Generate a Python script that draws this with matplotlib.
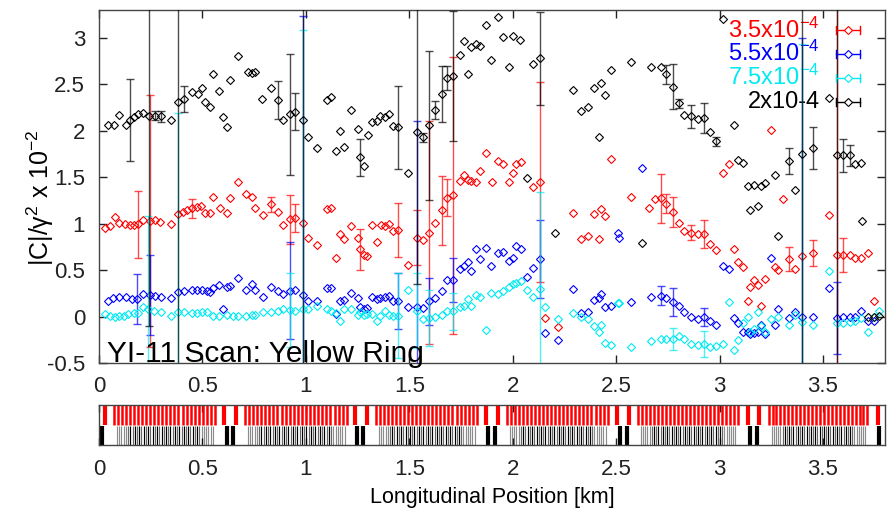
import numpy as np
import matplotlib
matplotlib.use('Agg')
import matplotlib.pyplot as plt
from matplotlib.ticker import FuncFormatter, MultipleLocator

plt.rcParams['font.family'] = ['Liberation Sans', 'DejaVu Sans']
plt.rcParams['mathtext.fontset'] = 'custom'
plt.rcParams['mathtext.rm'] = 'Liberation Sans'
plt.rcParams['mathtext.it'] = 'Liberation Sans:italic'
plt.rcParams['axes.unicode_minus'] = False

# ---------------- data ----------------
red_x = [0.029, 0.053, 0.077, 0.097, 0.126, 0.150, 0.171, 0.187, 0.214, 0.246, 0.271, 0.295, 0.348,
         0.383, 0.407, 0.424, 0.448, 0.472, 0.493, 0.512, 0.536, 0.552, 0.585, 0.617, 0.633, 0.673,
         0.713, 0.738, 0.754, 0.791, 0.831, 0.863, 0.890, 0.923, 0.947, 0.984, 1.011, 1.055, 1.100,
         1.124, 1.148, 1.164, 1.184, 1.216, 1.253, 1.264, 1.280, 1.298, 1.322, 1.344, 1.362, 1.382,
         1.402, 1.422, 1.446, 1.494, 1.535, 1.567, 1.596, 1.623, 1.656, 1.683, 1.712, 1.744, 1.763,
         1.784, 1.800, 1.821, 1.844, 1.873, 1.900, 1.929, 1.953, 1.981, 2.002, 2.018, 2.039, 2.098,
         2.130, 2.157, 2.218, 2.292, 2.332, 2.364, 2.393, 2.415, 2.428, 2.448, 2.477, 2.574, 2.657,
         2.686, 2.715, 2.742, 2.775, 2.802, 2.828, 2.863, 2.895, 2.923, 2.952, 2.981, 3.016, 3.048,
         3.068, 3.089, 3.113, 3.137, 3.148, 3.169, 3.185, 3.200, 3.222, 3.249, 3.270, 3.281, 3.305,
         3.335, 3.367, 3.399, 3.454, 3.528, 3.567, 3.599, 3.631, 3.657, 3.684, 3.717, 3.749]
red_y = [0.95, 0.975, 1.071, 1.011, 0.993, 0.986, 0.986, 0.993, 1.036, 1.029, 1.036, 1.021, 1.0,
         1.107, 1.129, 1.143, 1.164, 1.179, 1.189, 1.118, 1.118, 1.286, 1.171, 1.118, 1.271, 1.45,
         1.321, 1.286, 1.164, 1.093, 1.207, 1.129, 0.986, 1.046, 1.064, 1.011, 0.85, 0.771, 1.154,
         1.171, 0.629, 0.893, 0.832, 0.975, 0.85, 0.725, 0.664, 0.654, 0.986, 0.807, 0.986, 0.975,
         0.993, 0.921, 0.929, 0.557, 0.85, 0.821, 0.904, 1.011, 1.143, 1.279, 1.307, 1.464, 1.521,
         1.475, 1.457, 1.45, 1.571, 1.761, 1.45, 1.67, 1.64, 1.45, 1.54, 1.64, 1.66, 1.40,
         1.45, -0.014, -0.114, 1.118, 0.832, 0.868, 1.107, 0.832, 1.154, 1.082, 1.7, 1.286, 1.164,
         1.261, 1.271, 1.214, 1.129, 1.011, 0.921, 0.904, 0.893, 0.893, 0.786, 0.714, 1.546, 1.643,
         0.725, 0.582, 0.536, 0.164, 0.314, 0.393, 0.343, 0.118, 0.404, 2.011, 0.529, 0.5, 1.264,
         0.618, 0.511, 0.654, 0.689, 1.093, 0.664, 0.664, 0.664, 0.629, 0.629, 0.679, 0.171]

blue_x = [0.045, 0.069, 0.097, 0.129, 0.158, 0.182, 0.214, 0.246, 0.271, 0.300, 0.348, 0.383, 0.412,
          0.448, 0.472, 0.496, 0.520, 0.536, 0.552, 0.580, 0.601, 0.617, 0.633, 0.673, 0.713, 0.738,
          0.754, 0.791, 0.831, 0.863, 0.890, 0.923, 0.947, 0.984, 1.011, 1.055, 1.100, 1.124, 1.148,
          1.164, 1.184, 1.216, 1.253, 1.264, 1.280, 1.298, 1.322, 1.344, 1.357, 1.382, 1.402, 1.422,
          1.446, 1.494, 1.535, 1.567, 1.596, 1.623, 1.656, 1.683, 1.712, 1.744, 1.763, 1.784, 1.800,
          1.821, 1.844, 1.873, 1.897, 1.929, 1.953, 1.981, 2.002, 2.018, 2.039, 2.071, 2.098, 2.130,
          2.157, 2.218, 2.292, 2.332, 2.364, 2.393, 2.415, 2.428, 2.448, 2.477, 2.508, 2.516, 2.574,
          2.625, 2.670, 2.715, 2.742, 2.775, 2.802, 2.828, 2.863, 2.895, 2.923, 2.952, 2.981, 3.016,
          3.048, 3.068, 3.089, 3.113, 3.137, 3.148, 3.169, 3.185, 3.200, 3.222, 3.249, 3.270, 3.281,
          3.335, 3.367, 3.399, 3.454, 3.528, 3.567, 3.599, 3.631, 3.657, 3.684, 3.717, 3.749]
blue_y = [0.171, 0.2, 0.214, 0.207, 0.189, 0.189, 0.243, 0.236, 0.225, 0.214, 0.2, 0.261, 0.279,
          0.286, 0.286, 0.286, 0.271, 0.261, 0.307, 0.343, 0.082, 0.32, 0.33, 0.414, 0.286, 0.35,
          0.286, 0.214, 0.314, 0.279, 0.243, 0.279, 0.286, 0.236, 0.164, 0.164, 0.307, 0.307, 0.029,
          0.164, 0.179, 0.25, 0.2, 0.107, 0.082, 0.093, 0.214, 0.189, 0.2, 0.207, 0.225, 0.164,
          0.171, 0.1, 0.107, 0.093, 0.164, 0.2, 0.279, 0.393, 0.393, 0.511, 0.546, 0.582, 0.493,
          0.725, 0.618, 0.74, 0.546, 0.689, 0.7, 0.6, 0.629, 0.761, 0.725, 0.429, 0.521, 0.618,
          -0.179, -0.25, 0.296, 0.036, 0.046, 0.179, 0.2, 0.243, 0.107, 0.118, 0.904, 0.85, 0.154,
          1.6, 0.207, 0.225, 0.2, 0.154, 0.118, 0.046, -0.007, -0.025, -0.007, -0.05, -0.086, 0.546,
          0.511, -0.014, -0.071, -0.168, -0.168, -0.193, -0.179, -0.168, -0.096, -0.186, 0.629, -0.086, 0.082,
          -0.014, 0.046, 0.0, 0.0, 0.307, -0.014, -0.007, -0.007, 0.0, 0.057, -0.05, -0.043]

cyan_x = [0.029, 0.053, 0.077, 0.097, 0.122, 0.142, 0.171, 0.187, 0.214, 0.238, 0.267, 0.300, 0.348,
          0.383, 0.412, 0.448, 0.472, 0.496, 0.520, 0.552, 0.580, 0.617, 0.649, 0.673, 0.713, 0.738,
          0.754, 0.791, 0.831, 0.863, 0.890, 0.923, 0.947, 0.984, 1.011, 1.055, 1.100, 1.124, 1.148,
          1.164, 1.184, 1.216, 1.253, 1.264, 1.280, 1.298, 1.322, 1.344, 1.357, 1.382, 1.402, 1.422,
          1.446, 1.494, 1.535, 1.567, 1.596, 1.623, 1.656, 1.683, 1.712, 1.744, 1.763, 1.784, 1.800,
          1.821, 1.844, 1.873, 1.897, 1.929, 1.953, 1.981, 2.002, 2.018, 2.039, 2.071, 2.098, 2.130,
          2.157, 2.218, 2.292, 2.332, 2.364, 2.393, 2.415, 2.428, 2.448, 2.477, 2.508, 2.516, 2.574,
          2.670, 2.715, 2.742, 2.775, 2.802, 2.828, 2.863, 2.895, 2.923, 2.952, 2.981, 3.016, 3.048,
          3.068, 3.089, 3.113, 3.137, 3.148, 3.169, 3.185, 3.200, 3.222, 3.249, 3.281, 3.335, 3.367,
          3.399, 3.454, 3.528, 3.567, 3.599, 3.631, 3.657, 3.684, 3.717, 3.749, 3.773]
cyan_y = [0.029, 0.011, -0.007, 0.011, 0.011, 0.029, 0.036, 0.036, 0.1, 0.082, 0.064, 0.046, 0.011,
          0.046, 0.046, 0.036, 0.036, 0.046, 0.046, 0.011, 0.011, 0.021, 0.011, 0.011, 0.011, 0.021,
          0.021, 0.046, 0.046, 0.057, 0.082, 0.071, 0.064, 0.082, 0.082, 0.118, 0.082, 0.064, 0.036,
          -0.043, 0.082, 0.082, 0.021, 0.046, 0.021, 0.029, 0.029, -0.043, 0.011, 0.064, 0.021, 0.011,
          0.011, 0.286, 0.064, -0.025, -0.014, -0.007, 0.021, 0.064, 0.057, 0.107, 0.118, 0.189, 0.118,
          0.236, 0.207, -0.143, 0.25, 0.243, 0.279, 0.314, 0.35, 0.357, 0.386, 0.286, 0.207, 0.296,
          0.107, -0.025, 0.036, -0.007, -0.025, -0.107, -0.168, -0.096, -0.286, -0.311, 0.143, 0.143, -0.329,
          -0.264, -0.239, -0.239, -0.239, -0.204, -0.239, -0.293, -0.311, -0.293, -0.329, -0.321, -0.293, 0.154,
          -0.357, -0.257, -0.071, -0.007, -0.168, -0.132, 0.046, -0.107, -0.168, -0.025, -0.007, -0.086, 0.021,
          -0.061, -0.096, 0.493, -0.071, -0.071, -0.061, -0.043, -0.014, -0.168, 0.0, 0.064]

black_x = [0.045, 0.074, 0.097, 0.129, 0.150, 0.171, 0.190, 0.214, 0.242, 0.271, 0.300, 0.348, 0.383,
           0.412, 0.448, 0.477, 0.496, 0.512, 0.536, 0.552, 0.580, 0.601, 0.617, 0.633, 0.673, 0.718,
           0.738, 0.754, 0.786, 0.831, 0.863, 0.890, 0.923, 0.947, 0.984, 1.011, 1.055, 1.100, 1.124,
           1.148, 1.164, 1.184, 1.216, 1.253, 1.264, 1.280, 1.301, 1.322, 1.344, 1.357, 1.382, 1.402,
           1.422, 1.446, 1.494, 1.535, 1.567, 1.596, 1.623, 1.656, 1.683, 1.712, 1.744, 1.763, 1.784,
           1.800, 1.821, 1.844, 1.873, 1.897, 1.929, 1.953, 1.981, 2.002, 2.034, 2.071, 2.098, 2.130,
           2.203, 2.292, 2.332, 2.364, 2.393, 2.415, 2.428, 2.448, 2.477, 2.574, 2.625, 2.670, 2.715,
           2.742, 2.775, 2.802, 2.828, 2.863, 2.895, 2.923, 2.952, 2.981, 3.016, 3.068, 3.089, 3.113,
           3.137, 3.148, 3.169, 3.185, 3.200, 3.222, 3.270, 3.281, 3.335, 3.367, 3.399, 3.454, 3.528,
           3.567, 3.599, 3.631, 3.657, 3.684, 3.689, 3.717, 3.749, 3.773]
black_y = [2.057, 2.057, 2.171, 2.057, 2.118, 2.146, 2.179, 2.19, 2.164, 2.164, 2.154, 2.118, 2.307,
           2.343, 2.414, 2.393, 2.464, 2.307, 2.261, 2.607, 2.429, 2.143, 2.036, 2.546, 2.807, 2.629,
           2.618, 2.629, 2.343, 2.457, 2.332, 2.118, 2.179, 2.207, 2.118, 1.929, 1.814, 2.332, 2.368,
           1.786, 1.993, 1.821, 2.225, 2.021, 1.714, 1.618, 1.95, 2.093, 2.107, 2.154, 2.143, 2.179,
           2.046, 2.036, 1.546, 1.986, 1.929, 2.057, 2.225, 2.393, 2.571, 2.593, 2.814, 2.964, 2.607,
           2.904, 2.929, 2.914, 3.143, 2.761, 3.225, 3.011, 2.689, 3.021, 2.975, 1.493, 2.714, 2.779,
           0.904, 2.439, 2.214, 2.261, 2.464, 1.929, 2.511, 2.386, 2.654, 2.736, 0.796, 2.689, 2.689,
           2.607, 2.475, 2.296, 2.171, 2.154, 2.129, 2.136, 1.986, 1.886, 3.2, 2.064, 1.689, 1.654,
           1.404, 1.143, 1.421, 1.189, 1.404, 1.439, 1.521, 0.868, 1.679, 1.357, 1.75, 1.814, 2.357,
           1.736, 1.736, 1.736, 1.643, 1.654, 1.029, 0.0, 0.0, 0.011]

# error bars: positions (km) and symmetric errors
red_err_x = [0.187, 0.246, 0.448, 0.831, 0.923, 0.947, 1.264, 1.446, 1.535, 1.596, 1.656, 1.683,
             1.712, 2.130, 2.715, 2.742, 2.775, 2.863, 2.923, 3.335, 3.454, 3.567, 3.599]
red_err = [0.36, 1.36, 0.10, 0.08, 0.26, 0.15, 0.22, 0.29, 0.30, 1.2, 0.37, 0.2,
           1.49, 1.08, 0.26, 0.10, 0.16, 0.08, 0.15, 0.13, 0.14, 3.0, 0.18]
blue_err_x = [0.182, 0.246, 0.923, 0.984, 1.446, 1.535, 1.596, 1.712, 2.130, 2.715, 2.775,
              2.923, 3.399, 3.567]
blue_err = [0.27, 0.43, 0.52, 3.0, 0.30, 2.0, 0.25, 0.24, 0.42, 0.10, 0.15, 0.10, 3.0, 0.39]
cyan_err_x = [0.238, 0.383, 0.923, 0.984, 1.446, 1.535, 1.596, 1.712, 2.130, 2.775, 2.923, 3.399]
cyan_err = [1.0, 2.15, 0.40, 3.0, 0.46, 0.40, 0.30, 0.20, 1.04, 0.12, 0.14, 3.0]
black_err_x = [0.150, 0.242, 0.271, 0.300, 0.383, 0.412, 0.863, 0.923, 0.947, 0.984, 1.264, 1.446,
               1.535, 1.567, 1.596, 1.623, 1.656, 1.683, 1.712, 2.130, 2.742, 2.775, 2.802, 2.863,
               2.923, 2.981, 3.335, 3.399, 3.454, 3.567, 3.599, 3.631]
black_err = [0.44, 2.27, 0.05, 0.06, 3.0, 0.14, 0.20, 0.65, 0.20, 3.0, 0.20, 0.45,
             1.64, 0.05, 0.80, 0.10, 0.30, 0.13, 0.70, 0.50, 0.10, 0.24, 0.05, 0.12,
             0.16, 0.05, 0.14, 3.0, 0.23, 3.0, 0.18, 0.11]

series_labels = ['3.5x10$^{\\mathregular{-4}}$', '5.5x10$^{\\mathregular{-4}}$',
                 '7.5x10$^{\\mathregular{-4}}$', '2x10-4']

# lattice strip (km)
arc_start = [0.072, 0.705, 1.338, 1.971, 2.604, 3.237]
arc_end = [0.560, 1.198, 1.826, 2.459, 3.087, 3.715]
red_single = [0.029, 0.604, 0.662, 1.237, 1.295, 1.870, 1.928, 2.502, 2.560, 3.140, 3.193, 3.768]
black_single = [0.014, 0.618, 0.647, 1.246, 1.275, 1.879, 1.913, 2.517, 2.551, 3.145, 3.179, 3.773]
dipoles_per_arc = 26
black_per_arc = 44

# ---------------- figure ----------------
W, H = 888, 520
fig = plt.figure(figsize=(W / 100, H / 100), dpi=100)
ax = fig.add_axes([99 / W, 157 / H, 786 / W, 353 / H])

colors = ['#ff0000', '#0000ff', '#00eaf2', '#000000']
all_series = [(red_x, red_y, red_err_x, red_err),
              (blue_x, blue_y, blue_err_x, blue_err),
              (cyan_x, cyan_y, cyan_err_x, cyan_err),
              (black_x, black_y, black_err_x, black_err)]

for k, ((sx, sy, ex, ee), c) in enumerate(zip(all_series, colors)):
    sx = np.asarray(sx); sy = np.asarray(sy)
    idx = [int(np.argmin(np.abs(sx - e))) for e in ex]
    ax.errorbar(sx[idx], sy[idx], yerr=ee, fmt='none', ecolor=c, elinewidth=1.0,
                capsize=3.2, capthick=1.0, alpha=0.7, zorder=2 + k)
    ax.plot(sx, sy, ls='none', marker='D', ms=3.9, mfc='none', mec=c, mew=0.8, zorder=2.5 + k)

ax.set_xlim(0, 3.8)
ax.set_ylim(-0.5, 3.3)
ax.xaxis.set_major_locator(MultipleLocator(0.5))
ax.yaxis.set_major_locator(MultipleLocator(0.5))
fmt = FuncFormatter(lambda v, p: '%g' % round(v, 3))
ax.xaxis.set_major_formatter(fmt)
ax.yaxis.set_major_formatter(fmt)
ax.tick_params(direction='in', top=True, right=True, length=6, width=1, labelsize=16,
               pad=9, colors='#222222')
ax.tick_params(axis='y', pad=10)
for s in ax.spines.values():
    s.set_color('#444444'); s.set_linewidth(1)

# legend (gnuplot style, drawn in axes coordinates)
ly = [0.943, 0.876, 0.808, 0.740]
for lab, c, yy in zip(series_labels, colors, ly):
    ax.text(0.917, yy, lab, color=c, fontsize=17, ha='right', va='center', transform=ax.transAxes)
    ax.plot([0.9377, 0.968], [yy, yy], color=c, lw=1, transform=ax.transAxes, clip_on=False, zorder=10)
    for xx in (0.9377, 0.968):
        ax.plot([xx, xx], [yy - 0.012, yy + 0.012], color=c, lw=1, transform=ax.transAxes,
                clip_on=False, zorder=10)
    ax.plot([0.953], [yy], ls='none', marker='D', ms=3.9, mfc='white', mec=c, mew=0.8,
            transform=ax.transAxes, clip_on=False, zorder=11)

ax.text(0.010, 0.004, 'YI-11 Scan: Yellow Ring', fontsize=21.5, ha='left', va='baseline',
        transform=ax.transAxes, zorder=20)

fig.text(40 / W, 1 - 198 / H, '|C|/γ$^{\\mathregular{2}}$ x 10$^{\\mathregular{-2}}$', rotation=90,
         ha='center', va='center', fontsize=18)

# lattice strip
sa = fig.add_axes([99 / W, 75 / H, 786 / W, 40 / H])
sa.set_xlim(0, 3.8)
sa.set_ylim(0, 1)
for a0, a1 in zip(arc_start, arc_end):
    pos = np.linspace(a0, a1, dipoles_per_arc)
    sa.vlines(pos, 0.5, 1.0, colors='#ff0000', lw=1.8)
    bpos = np.linspace(a0 + 0.015, a1 - 0.01, black_per_arc)
    n = np.arange(black_per_arc)
    edge = (n < 5) | (n > black_per_arc - 7)
    alph = np.where(edge, 0.45, np.where(n % 2 == 0, 1.0, 0.6))
    for p, al in zip(bpos, alph):
        sa.vlines(p, 0.0, 0.47, colors='black', lw=0.85, alpha=al)
sa.vlines(red_single, 0.5, 1.0, colors='#ff0000', lw=3.0)
sa.vlines(black_single, 0.0, 0.47, colors='black', lw=3.0)
sa.xaxis.set_major_locator(MultipleLocator(0.5))
sa.xaxis.set_major_formatter(fmt)
sa.set_yticks([])
sa.tick_params(axis='x', direction='in', top=True, length=5, width=1, labelsize=16, pad=10,
               colors='#222222')
for s in sa.spines.values():
    s.set_color('#444444'); s.set_linewidth(1)

fig.text(492 / W, 1 - 497 / H, 'Longitudinal Position [km]', ha='center', va='center', fontsize=15.5)

fig.savefig('out.png', dpi=100)
